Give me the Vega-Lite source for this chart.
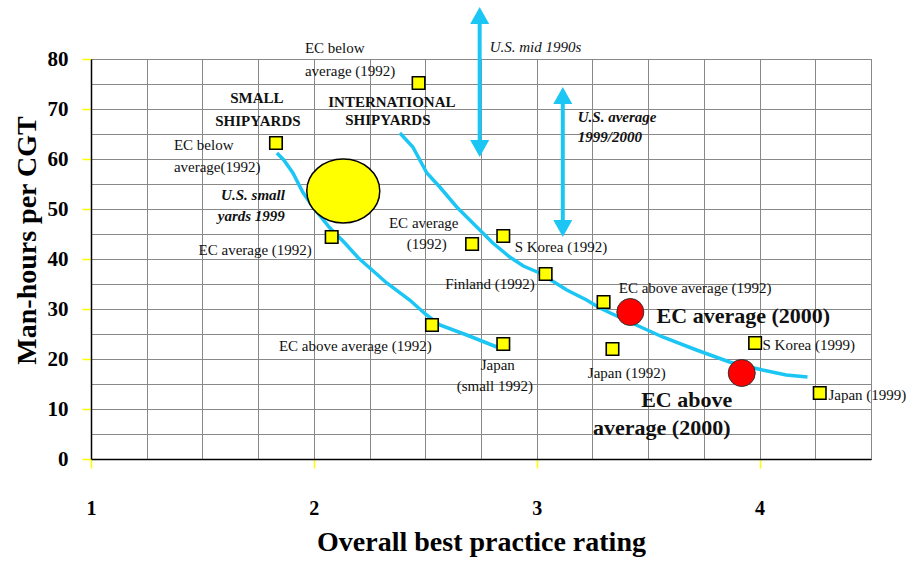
{
  "$schema": "https://vega.github.io/schema/vega-lite/v6.json",
  "width": 780,
  "height": 400,
  "autosize": "none",
  "padding": {"left": 91, "top": 59, "right": 40, "bottom": 104},
  "background": "white",
  "config": {
    "view": {"stroke": "#888888", "strokeWidth": 1},
    "font": "Liberation Serif",
    "text": {"font": "Liberation Serif", "fill": "#111111", "baseline": "middle"}
  },
  "resolve": {"axis": {"x": "independent", "y": "independent"}},
  "datasets": {
    "curves": [
      {"curve": "small", "x": 1.834, "y": 61.2},
      {"curve": "small", "x": 1.865, "y": 59.8},
      {"curve": "small", "x": 1.906, "y": 57.2},
      {"curve": "small", "x": 1.950, "y": 53.4},
      {"curve": "small", "x": 1.996, "y": 50.4},
      {"curve": "small", "x": 2.072, "y": 46.2},
      {"curve": "small", "x": 2.139, "y": 43.2},
      {"curve": "small", "x": 2.200, "y": 40.2},
      {"curve": "small", "x": 2.251, "y": 38.2},
      {"curve": "small", "x": 2.327, "y": 35.2},
      {"curve": "small", "x": 2.430, "y": 31.8},
      {"curve": "small", "x": 2.500, "y": 29.0},
      {"curve": "small", "x": 2.565, "y": 26.8},
      {"curve": "small", "x": 2.686, "y": 24.8},
      {"curve": "small", "x": 2.821, "y": 22.4},
      {"curve": "international", "x": 2.386, "y": 65.2},
      {"curve": "international", "x": 2.444, "y": 62.4},
      {"curve": "international", "x": 2.507, "y": 57.2},
      {"curve": "international", "x": 2.565, "y": 54.4},
      {"curve": "international", "x": 2.641, "y": 50.4},
      {"curve": "international", "x": 2.731, "y": 46.4},
      {"curve": "international", "x": 2.803, "y": 43.2},
      {"curve": "international", "x": 2.879, "y": 40.4},
      {"curve": "international", "x": 2.940, "y": 38.6},
      {"curve": "international", "x": 3.013, "y": 37.2},
      {"curve": "international", "x": 3.135, "y": 33.8},
      {"curve": "international", "x": 3.224, "y": 31.8},
      {"curve": "international", "x": 3.283, "y": 30.2},
      {"curve": "international", "x": 3.417, "y": 27.4},
      {"curve": "international", "x": 3.565, "y": 24.4},
      {"curve": "international", "x": 3.717, "y": 21.8},
      {"curve": "international", "x": 3.865, "y": 19.4},
      {"curve": "international", "x": 4.013, "y": 17.8},
      {"curve": "international", "x": 4.120, "y": 16.8},
      {"curve": "international", "x": 4.215, "y": 16.4}
    ],
    "usRanges": [
      {"range": "U.S. mid 1990s", "x": 2.744, "top": 90.4, "bottom": 60.4},
      {"range": "U.S. average 1999/2000", "x": 3.117, "top": 74.4, "bottom": 44.4}
    ],
    "usSmallYards": [
      {"name": "U.S. small yards 1999", "x": 2.132, "y": 53.6}
    ],
    "yards1992_1999": [
      {"name": "EC below average (1992) small", "x": 1.83, "y": 63.2},
      {"name": "EC below average (1992)", "x": 2.47, "y": 75.2},
      {"name": "EC average (1992) small", "x": 2.08, "y": 44.4},
      {"name": "EC average (1992)", "x": 2.71, "y": 43.0},
      {"name": "S Korea (1992)", "x": 2.85, "y": 44.6},
      {"name": "Finland (1992)", "x": 3.04, "y": 37.0},
      {"name": "EC above average (1992)", "x": 3.30, "y": 31.4},
      {"name": "EC above average (1992) small", "x": 2.53, "y": 26.8},
      {"name": "Japan (small 1992)", "x": 2.85, "y": 23.0},
      {"name": "Japan (1992)", "x": 3.34, "y": 22.0},
      {"name": "S Korea (1999)", "x": 3.98, "y": 23.2},
      {"name": "Japan (1999)", "x": 4.27, "y": 13.2}
    ],
    "ec2000": [
      {"name": "EC average (2000)", "x": 3.42, "y": 29.4},
      {"name": "EC above average (2000)", "x": 3.92, "y": 17.2}
    ],
    "notesLeft": [
      {"text": "EC below", "x": 1.960, "y": 82.2},
      {"text": "average (1992)", "x": 1.960, "y": 77.6},
      {"text": "EC below", "x": 1.372, "y": 62.8},
      {"text": "average(1992)", "x": 1.372, "y": 58.4},
      {"text": "S Korea (1992)", "x": 2.901, "y": 42.4},
      {"text": "EC above average (1992)", "x": 3.368, "y": 34.2},
      {"text": "S Korea (1999)", "x": 4.013, "y": 22.8},
      {"text": "Japan (1999)", "x": 4.309, "y": 12.8}
    ],
    "notesRight": [
      {"text": "EC average (1992)", "x": 1.991, "y": 41.8},
      {"text": "Finland (1992)", "x": 2.991, "y": 35.0},
      {"text": "EC above average (1992)", "x": 2.529, "y": 22.6}
    ],
    "notesCenter": [
      {"text": "EC average", "x": 2.493, "y": 47.2},
      {"text": "(1992)", "x": 2.507, "y": 43.0},
      {"text": "Japan (1992)", "x": 3.404, "y": 17.2},
      {"text": "Japan", "x": 2.825, "y": 18.8},
      {"text": "(small 1992)", "x": 2.812, "y": 14.6}
    ],
    "groupTitles": [
      {"text": "SMALL", "x": 1.744, "y": 72.2},
      {"text": "SHIPYARDS", "x": 1.749, "y": 67.6},
      {"text": "INTERNATIONAL", "x": 2.350, "y": 71.4},
      {"text": "SHIPYARDS", "x": 2.332, "y": 67.8}
    ],
    "usSmallNote": [
      {"text": "U.S. small", "x": 1.870, "y": 52.8},
      {"text": "yards 1999", "x": 1.870, "y": 48.6}
    ],
    "usAverageNote": [
      {"text": "U.S. average", "x": 3.184, "y": 68.4},
      {"text": "1999/2000", "x": 3.184, "y": 64.4}
    ],
    "usMidNote": [
      {"text": "U.S. mid 1990s", "x": 2.789, "y": 82.4}
    ],
    "ec2000Left": [
      {"text": "EC average (2000)", "x": 3.538, "y": 28.6}
    ],
    "ec2000Center": [
      {"text": "EC above", "x": 3.673, "y": 11.8},
      {"text": "average (2000)", "x": 3.561, "y": 6.2}
    ]
  },
  "layer": [
    {
      "data": {"name": "curves"},
      "mark": {"type": "line", "color": "#1CC6F4", "strokeWidth": 3.5, "clip": false},
      "encoding": {
        "x": {
          "field": "x", "type": "quantitative",
          "scale": {"domain": [1, 4.5], "nice": false, "zero": false},
          "axis": {
            "orient": "bottom",
            "values": [1, 1.25, 1.5, 1.75, 2, 2.25, 2.5, 2.75, 3, 3.25, 3.5, 3.75, 4, 4.25, 4.5],
            "grid": true,
            "gridColor": "#888888",
            "gridWidth": 1,
            "gridOpacity": 1,
            "labels": false,
            "ticks": false,
            "domain": false,
            "title": null,
            "zindex": 0
          }
        },
        "y": {
          "field": "y", "type": "quantitative",
          "scale": {"domain": [0, 80], "nice": false},
          "axis": {
            "orient": "left",
            "values": [0, 5, 10, 15, 20, 25, 30, 35, 40, 45, 50, 55, 60, 65, 70, 75, 80],
            "grid": true,
            "gridColor": "#888888",
            "gridWidth": 1,
            "gridOpacity": 1,
            "labels": false,
            "ticks": false,
            "domain": false,
            "title": null,
            "zindex": 0
          }
        },
        "detail": {"field": "curve", "type": "nominal"}
      }
    },
    {
      "data": {"name": "usRanges"},
      "mark": {"type": "rule", "color": "#1CC6F4", "strokeWidth": 4, "yOffset": 12, "y2Offset": -12, "clip": false},
      "encoding": {
        "x": {"field": "x", "type": "quantitative", "axis": null},
        "y": {"field": "top", "type": "quantitative", "axis": null},
        "y2": {"field": "bottom"}
      }
    },
    {
      "data": {"name": "usRanges"},
      "mark": {"type": "point", "shape": "M 0 0 L 1 1.8 L -1 1.8 Z", "size": 361, "filled": true, "color": "#1CC6F4", "opacity": 1, "clip": false},
      "encoding": {
        "x": {"field": "x", "type": "quantitative", "axis": null},
        "y": {"field": "top", "type": "quantitative", "axis": null}
      }
    },
    {
      "data": {"name": "usRanges"},
      "mark": {"type": "point", "shape": "M 0 0 L 1 -1.8 L -1 -1.8 Z", "size": 361, "filled": true, "color": "#1CC6F4", "opacity": 1, "clip": false},
      "encoding": {
        "x": {"field": "x", "type": "quantitative", "axis": null},
        "y": {"field": "bottom", "type": "quantitative", "axis": null}
      }
    },
    {
      "data": {"name": "usSmallYards"},
      "mark": {"type": "point", "shape": "M -1 0 A 1 0.877 0 1 1 1 0 A 1 0.877 0 1 1 -1 0 Z", "size": 5329, "filled": true, "fill": "#FFFF00", "stroke": "#000000", "strokeWidth": 1.5, "opacity": 1},
      "encoding": {
        "x": {"field": "x", "type": "quantitative", "axis": null},
        "y": {"field": "y", "type": "quantitative", "axis": null}
      }
    },
    {
      "data": {"name": "yards1992_1999"},
      "mark": {"type": "point", "shape": "square", "size": 156, "filled": true, "fill": "#FFFF00", "stroke": "#000000", "strokeWidth": 1.6, "opacity": 1},
      "encoding": {
        "x": {
          "field": "x", "type": "quantitative",
          "axis": {
            "orient": "bottom",
            "values": [1, 2, 3, 4],
            "format": "d",
            "labelOverlap": false,
            "labelFlush": false,
            "grid": false,
            "domainColor": "#000000",
            "domainWidth": 1.5,
            "tickSize": 9,
            "tickWidth": 1.5,
            "tickColor": "#FFFF00",
            "labelFont": "Liberation Serif",
            "labelFontSize": 20,
            "labelFontWeight": "bold",
            "labelColor": "#000000",
            "labelPadding": 30,
            "title": "Overall best practice rating",
            "titleFont": "Liberation Serif",
            "titleFontSize": 28,
            "titleFontWeight": "bold",
            "titleColor": "#000000",
            "titlePadding": 10,
            "zindex": 1
          }
        },
        "y": {
          "field": "y", "type": "quantitative",
          "axis": {
            "orient": "left",
            "values": [0, 10, 20, 30, 40, 50, 60, 70, 80],
            "labelOverlap": false,
            "labelFlush": false,
            "grid": false,
            "domainColor": "#000000",
            "domainWidth": 1.5,
            "tickSize": 9,
            "tickWidth": 1.5,
            "tickColor": "#FFFF00",
            "labelFont": "Liberation Serif",
            "labelFontSize": 21,
            "labelFontWeight": "bold",
            "labelColor": "#000000",
            "labelPadding": 14,
            "title": "Man-hours per CGT",
            "titleFont": "Liberation Serif",
            "titleFontSize": 28,
            "titleFontWeight": "bold",
            "titleColor": "#000000",
            "titlePadding": 6,
            "titleY": 181,
            "zindex": 1
          }
        }
      }
    },
    {
      "data": {"name": "ec2000"},
      "mark": {"type": "point", "shape": "circle", "size": 729, "filled": true, "fill": "#FF0000", "stroke": "#333333", "strokeWidth": 1, "opacity": 1},
      "encoding": {
        "x": {"field": "x", "type": "quantitative", "axis": null},
        "y": {"field": "y", "type": "quantitative", "axis": null}
      }
    },
    {
      "data": {"name": "notesLeft"},
      "mark": {"type": "text", "align": "left", "fontSize": 15},
      "encoding": {
        "x": {"field": "x", "type": "quantitative", "axis": null},
        "y": {"field": "y", "type": "quantitative", "axis": null},
        "text": {"field": "text"}
      }
    },
    {
      "data": {"name": "notesRight"},
      "mark": {"type": "text", "align": "right", "fontSize": 15},
      "encoding": {
        "x": {"field": "x", "type": "quantitative", "axis": null},
        "y": {"field": "y", "type": "quantitative", "axis": null},
        "text": {"field": "text"}
      }
    },
    {
      "data": {"name": "notesCenter"},
      "mark": {"type": "text", "align": "center", "fontSize": 15},
      "encoding": {
        "x": {"field": "x", "type": "quantitative", "axis": null},
        "y": {"field": "y", "type": "quantitative", "axis": null},
        "text": {"field": "text"}
      }
    },
    {
      "data": {"name": "groupTitles"},
      "mark": {"type": "text", "align": "center", "fontSize": 15, "fontWeight": "bold"},
      "encoding": {
        "x": {"field": "x", "type": "quantitative", "axis": null},
        "y": {"field": "y", "type": "quantitative", "axis": null},
        "text": {"field": "text"}
      }
    },
    {
      "data": {"name": "usSmallNote"},
      "mark": {"type": "text", "align": "right", "fontSize": 15, "fontWeight": "bold", "fontStyle": "italic"},
      "encoding": {
        "x": {"field": "x", "type": "quantitative", "axis": null},
        "y": {"field": "y", "type": "quantitative", "axis": null},
        "text": {"field": "text"}
      }
    },
    {
      "data": {"name": "usAverageNote"},
      "mark": {"type": "text", "align": "left", "fontSize": 15, "fontWeight": "bold", "fontStyle": "italic"},
      "encoding": {
        "x": {"field": "x", "type": "quantitative", "axis": null},
        "y": {"field": "y", "type": "quantitative", "axis": null},
        "text": {"field": "text"}
      }
    },
    {
      "data": {"name": "usMidNote"},
      "mark": {"type": "text", "align": "left", "fontSize": 15, "fontStyle": "italic"},
      "encoding": {
        "x": {"field": "x", "type": "quantitative", "axis": null},
        "y": {"field": "y", "type": "quantitative", "axis": null},
        "text": {"field": "text"}
      }
    },
    {
      "data": {"name": "ec2000Left"},
      "mark": {"type": "text", "align": "left", "fontSize": 22, "fontWeight": "bold"},
      "encoding": {
        "x": {"field": "x", "type": "quantitative", "axis": null},
        "y": {"field": "y", "type": "quantitative", "axis": null},
        "text": {"field": "text"}
      }
    },
    {
      "data": {"name": "ec2000Center"},
      "mark": {"type": "text", "align": "center", "fontSize": 22, "fontWeight": "bold"},
      "encoding": {
        "x": {"field": "x", "type": "quantitative", "axis": null},
        "y": {"field": "y", "type": "quantitative", "axis": null},
        "text": {"field": "text"}
      }
    }
  ]
}
